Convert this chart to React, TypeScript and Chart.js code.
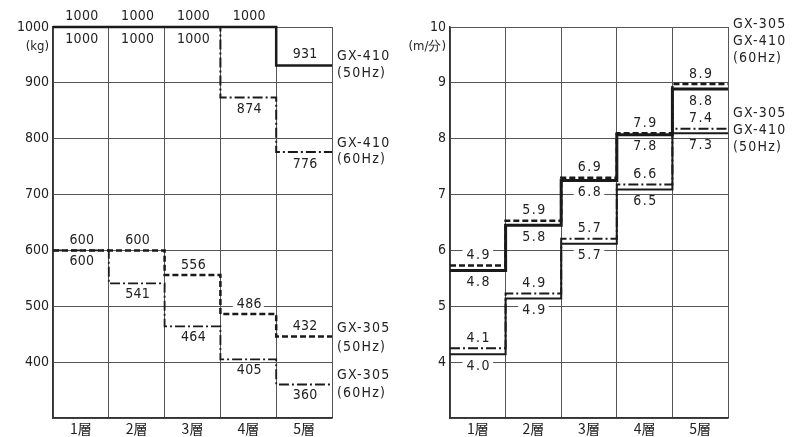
import { useEffect, useRef } from 'react';
import { Chart, registerables } from 'chart.js';

Chart.register(...registerables);

// ---------- data ----------
const floors = ['1層', '2層', '3層', '4層', '5層'];

// Left panel: load (kg)
const loadMin = 300;
const loadMax = 1000;
const loadStep = 100;
const loadGX410_50 = [1000, 1000, 1000, 1000, 931];
const loadGX410_60 = [1000, 1000, 1000, 874, 776];
const loadGX305_50 = [600, 600, 556, 486, 432];
const loadGX305_60 = [600, 541, 464, 405, 360];
// levels at which the steps are drawn in the figure
const loadLevelGX410_50 = [1000, 1000, 1000, 1000, 931];
const loadLevelGX410_60 = [1000, 1000, 1000, 874, 776];
const loadLevelGX305_50 = [600, 600, 556, 486, 446];
const loadLevelGX305_60 = [600, 541, 464, 405, 360];

// Right panel: speed (m/分)
const speedMin = 3;
const speedMax = 10;
const speedStep = 1;
const speedGX305_60 = [4.9, 5.9, 6.9, 7.9, 8.9];
const speedGX410_60 = [4.8, 5.8, 6.8, 7.8, 8.8];
const speedGX305_50 = [4.1, 4.9, 5.7, 6.6, 7.4];
const speedGX410_50 = [4.0, 4.9, 5.7, 6.5, 7.3];
// levels at which the steps are drawn in the figure
const speedLevelGX305_60 = [5.73, 6.53, 7.3, 8.1, 8.98];
const speedLevelGX410_60 = [5.64, 6.45, 7.25, 8.07, 8.89];
const speedLevelGX305_50 = [4.25, 5.23, 6.21, 7.18, 8.18];
const speedLevelGX410_50 = [4.14, 5.14, 6.12, 7.09, 8.1];

// ---------- styles ----------
const COND = '"DejaVu Sans Condensed", "DejaVu Sans", sans-serif';
const CJK = '"Noto Sans CJK JP", "Noto Sans", sans-serif';
const INK = '#1a1a1a';
const TEXT = '#222222';
const GRID = '#555555';
const DASH = [6, 3];
const DASHDOT = [10, 3, 2, 3];

type Series = {
  values: number[];
  levels: number[];
  dash: number[];
  width: number;
  labelDy: number;
  fmt: (v: number) => string;
};

type SideLabel = { text: string; y: number };

type Panel = {
  min: number;
  max: number;
  step: number;
  unit: string;
  series: Series[];
  side: SideLabel[];
  padRight: number;
  labelSpacing: string;
};

const intFmt = (v: number) => String(v);
const decFmt = (v: number) => v.toFixed(1);

const leftPanel: Panel = {
  min: loadMin,
  max: loadMax,
  step: loadStep,
  unit: '(kg)',
  padRight: 65,
  labelSpacing: '0.3px',
  series: [
    { values: loadGX410_50, levels: loadLevelGX410_50, dash: [], width: 2.5, labelDy: -11, fmt: intFmt },
    { values: loadGX410_60, levels: loadLevelGX410_60, dash: DASHDOT, width: 2, labelDy: 12, fmt: intFmt },
    { values: loadGX305_50, levels: loadLevelGX305_50, dash: DASH, width: 2.5, labelDy: -10, fmt: intFmt },
    { values: loadGX305_60, levels: loadLevelGX305_60, dash: DASHDOT, width: 1.8, labelDy: 11, fmt: intFmt },
  ],
  side: [
    { text: 'GX-410', y: 56 },
    { text: '(50Hz)', y: 73 },
    { text: 'GX-410', y: 143 },
    { text: '(60Hz)', y: 159 },
    { text: 'GX-305', y: 328 },
    { text: '(50Hz)', y: 347 },
    { text: 'GX-305', y: 375 },
    { text: '(60Hz)', y: 393 },
  ],
};

const rightPanel: Panel = {
  min: speedMin,
  max: speedMax,
  step: speedStep,
  unit: '(m/分)',
  padRight: 67,
  labelSpacing: '1.5px',
  series: [
    { values: speedGX305_60, levels: speedLevelGX305_60, dash: DASH, width: 2.5, labelDy: -10, fmt: decFmt },
    { values: speedGX410_60, levels: speedLevelGX410_60, dash: [], width: 3, labelDy: 12, fmt: decFmt },
    { values: speedGX305_50, levels: speedLevelGX305_50, dash: DASHDOT, width: 2, labelDy: -10, fmt: decFmt },
    { values: speedGX410_50, levels: speedLevelGX410_50, dash: [], width: 2, labelDy: 12, fmt: decFmt },
  ],
  side: [
    { text: 'GX-305', y: 24 },
    { text: 'GX-410', y: 41 },
    { text: '(60Hz)', y: 58 },
    { text: 'GX-305', y: 113 },
    { text: 'GX-410', y: 130 },
    { text: '(50Hz)', y: 147 },
  ],
};

function stepPoints(levels: number[]) {
  const pts = levels.map((v, i) => ({ x: i, y: v }));
  pts.push({ x: levels.length, y: levels[levels.length - 1] });
  return pts;
}

function makePlugin(p: Panel) {
  return {
    id: 'panelText',
    beforeDatasetsDraw(chart: any) {
      const ctx = chart.ctx as CanvasRenderingContext2D;
      const xs = chart.scales.x;
      const ys = chart.scales.y;
      ctx.save();
      ctx.font = `14px ${COND}`;
      (ctx as any).letterSpacing = p.labelSpacing;
      ctx.textAlign = 'center';
      ctx.textBaseline = 'middle';
      p.series.forEach((s) => {
        s.values.forEach((v, i) => {
          const text = s.fmt(v);
          const x = xs.getPixelForValue(i + 0.5);
          const y = ys.getPixelForValue(s.levels[i]) + s.labelDy;
          const w = ctx.measureText(text).width;
          ctx.fillStyle = '#ffffff';
          ctx.fillRect(x - w / 2 - 3, y - 6, w + 6, 12);
          ctx.fillStyle = TEXT;
          ctx.fillText(text, x + 1, y);
        });
      });
      ctx.restore();
    },
    afterDraw(chart: any) {
      const ctx = chart.ctx as CanvasRenderingContext2D;
      const area = chart.chartArea;
      ctx.save();
      ctx.fillStyle = TEXT;
      ctx.font = `13px ${COND}`;
      ctx.textAlign = 'right';
      ctx.textBaseline = 'middle';
      ctx.fillText(p.unit, area.left - 4, area.top + 20);
      ctx.font = `14px ${COND}`;
      (ctx as any).letterSpacing = '1.2px';
      ctx.textAlign = 'left';
      p.side.forEach((sl) => {
        ctx.fillText(sl.text, area.right + 5, sl.y);
      });
      ctx.restore();
    },
  };
}

function makeConfig(p: Panel): any {
  return {
    type: 'line',
    data: {
      datasets: p.series.map((s) => ({
        data: stepPoints(s.levels),
        stepped: 'before',
        borderColor: INK,
        borderWidth: s.width,
        borderDash: s.dash,
        pointRadius: 0,
        fill: false,
        clip: false,
      })),
    },
    options: {
      animation: false,
      responsive: false,
      devicePixelRatio: 1,
      layout: { padding: { left: 0, top: 27, right: p.padRight, bottom: 0 } },
      plugins: { legend: { display: false }, tooltip: { enabled: false } },
      scales: {
        x: {
          type: 'linear',
          position: 'bottom',
          min: 0,
          max: floors.length,
          ticks: { display: false, stepSize: 1 },
          grid: { color: GRID, lineWidth: 1, drawTicks: false },
          border: { color: '#333', width: 1.5 },
          afterFit: (s: any) => {
            s.height = 0;
          },
        },
        x2: {
          type: 'category',
          position: 'bottom',
          labels: floors,
          offset: true,
          grid: { display: false, drawTicks: false },
          border: { display: false },
          ticks: { font: { family: CJK, size: 14 }, color: TEXT, padding: 2, maxRotation: 0 },
          afterFit: (s: any) => {
            s.height = 19;
          },
        },
        y: {
          type: 'linear',
          min: p.min,
          max: p.max,
          ticks: {
            stepSize: p.step,
            font: { family: COND, size: 14 },
            color: TEXT,
            padding: 4,
            callback: (v: number) => (v === p.min ? '' : String(v)),
          },
          grid: { color: GRID, lineWidth: 1, drawTicks: false },
          border: { color: '#333', width: 1.5 },
          afterFit: (s: any) => {
            s.width = 53;
          },
        },
      },
    },
    plugins: [makePlugin(p)],
  };
}

function PanelChart({ panel, left, width }: { panel: Panel; left: number; width: number }) {
  const ref = useRef<HTMLCanvasElement | null>(null);
  useEffect(() => {
    if (!ref.current) return;
    const chart = new Chart(ref.current, makeConfig(panel));
    return () => chart.destroy();
  }, [panel]);
  return (
    <canvas
      ref={ref}
      width={width}
      height={437}
      style={{ position: 'absolute', left, top: 0, width, height: 437 }}
    />
  );
}

export default function App() {
  return (
    <div
      style={{
        position: 'fixed',
        left: 0,
        top: 0,
        width: 795,
        height: 437,
        background: '#ffffff',
        overflow: 'hidden',
      }}
    >
      <PanelChart panel={leftPanel} left={0} width={397} />
      <PanelChart panel={rightPanel} left={397} width={398} />
    </div>
  );
}
